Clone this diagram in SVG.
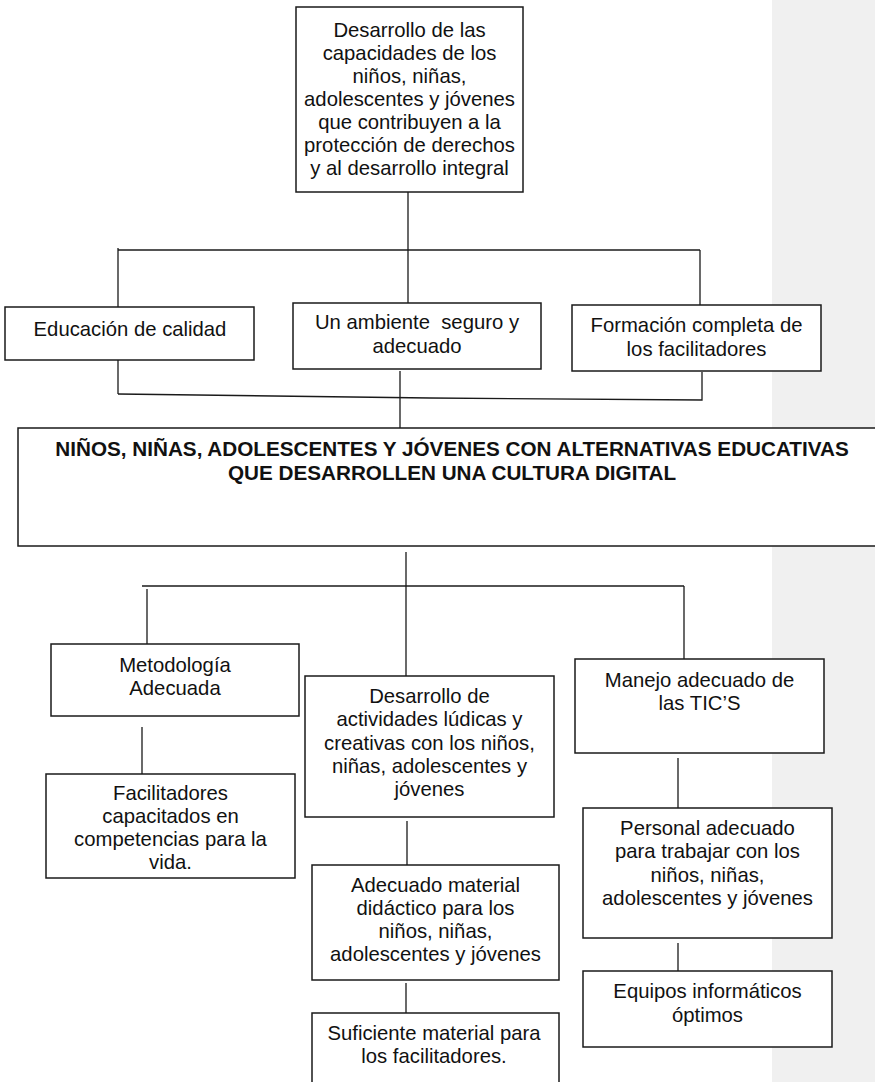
<svg xmlns="http://www.w3.org/2000/svg" width="875" height="1082" viewBox="0 0 875 1082">
<style>
.box{fill:#ffffff;stroke:#1a1a1a;stroke-width:1.5}
.t{font-family:"Liberation Sans",Arial,sans-serif;font-size:20.3px;fill:#111;text-anchor:middle}
.b{font-weight:bold;font-size:20.7px}
.c{fill:none;stroke:#1a1a1a;stroke-width:1.3}
</style>
<rect x="772" y="0" width="103" height="1082" fill="#f0f0f0"/>
<g id="connectors">
<line class="c" x1="408" y1="192" x2="408" y2="303"/>
<polyline class="c" points="118,307 118,248"/>
<line class="c" x1="118" y1="250" x2="700" y2="250"/>
<line class="c" x1="700" y1="250" x2="700" y2="305"/>
<line class="c" x1="118" y1="360" x2="118" y2="394"/>
<polyline class="c" points="118,394 430,398 702,400 702,372"/>
<line class="c" x1="400" y1="371" x2="400" y2="428"/>
<line class="c" x1="406" y1="552" x2="406" y2="676"/>
<line class="c" x1="142" y1="586" x2="684" y2="586"/>
<line class="c" x1="147" y1="589" x2="147" y2="644"/>
<line class="c" x1="684" y1="586" x2="684" y2="659"/>
<line class="c" x1="142" y1="727" x2="142" y2="774"/>
<line class="c" x1="407" y1="821" x2="407" y2="865"/>
<line class="c" x1="406" y1="983" x2="406" y2="1013"/>
<line class="c" x1="678" y1="758" x2="678" y2="808"/>
<line class="c" x1="678" y1="943" x2="678" y2="971"/>
</g>
<g id="n-top">
<rect class="box" x="296" y="7" width="227" height="185"/>
<text class="t"><tspan x="409.5" y="37">Desarrollo de las</tspan><tspan x="409.5" y="60">capacidades de los</tspan><tspan x="409.5" y="83">niños, niñas,</tspan><tspan x="409.5" y="106">adolescentes y jóvenes</tspan><tspan x="409.5" y="129">que contribuyen a la</tspan><tspan x="409.5" y="152">protección de derechos</tspan><tspan x="409.5" y="175">y al desarrollo integral</tspan></text>
</g>
<g id="n-educacion">
<rect class="box" x="5" y="307" width="249" height="53"/>
<text class="t" x="130" y="336">Educación de calidad</text>
</g>
<g id="n-ambiente">
<rect class="box" x="293" y="303" width="248" height="66"/>
<text class="t" xml:space="preserve"><tspan x="417" y="329">Un ambiente  seguro y</tspan><tspan x="417" y="353">adecuado</tspan></text>
</g>
<g id="n-formacion">
<rect class="box" x="572" y="305" width="249" height="66"/>
<text class="t"><tspan x="696.5" y="332">Formación completa de</tspan><tspan x="696.5" y="356">los facilitadores</tspan></text>
</g>
<g id="n-main">
<rect class="box" x="18" y="428" width="872" height="118"/>
<text class="t b"><tspan x="452" y="456">NIÑOS, NIÑAS, ADOLESCENTES Y JÓVENES CON ALTERNATIVAS EDUCATIVAS</tspan><tspan x="452" y="480">QUE DESARROLLEN UNA CULTURA DIGITAL</tspan></text>
</g>
<g id="n-metodologia">
<rect class="box" x="51" y="644" width="248" height="72"/>
<text class="t"><tspan x="175" y="672">Metodología</tspan><tspan x="175" y="695">Adecuada</tspan></text>
</g>
<g id="n-facilitadores">
<rect class="box" x="46" y="774" width="249" height="104"/>
<text class="t"><tspan x="170.5" y="800">Facilitadores</tspan><tspan x="170.5" y="823">capacitados en</tspan><tspan x="170.5" y="846">competencias para la</tspan><tspan x="170.5" y="869">vida.</tspan></text>
</g>
<g id="n-desarrollo">
<rect class="box" x="305" y="676" width="249" height="141"/>
<text class="t"><tspan x="429.5" y="703">Desarrollo de</tspan><tspan x="429.5" y="726">actividades lúdicas y</tspan><tspan x="429.5" y="750">creativas con los niños,</tspan><tspan x="429.5" y="773">niñas, adolescentes y</tspan><tspan x="429.5" y="796">jóvenes</tspan></text>
</g>
<g id="n-adecuado">
<rect class="box" x="312" y="865" width="247" height="115"/>
<text class="t"><tspan x="435.5" y="892">Adecuado material</tspan><tspan x="435.5" y="915">didáctico para los</tspan><tspan x="435.5" y="938">niños, niñas,</tspan><tspan x="435.5" y="961">adolescentes y jóvenes</tspan></text>
</g>
<g id="n-suficiente">
<rect class="box" x="312" y="1013" width="247" height="80"/>
<text class="t"><tspan x="434" y="1040">Suficiente material para</tspan><tspan x="434" y="1063">los facilitadores.</tspan></text>
</g>
<g id="n-manejo">
<rect class="box" x="575" y="659" width="249" height="94"/>
<text class="t"><tspan x="699.5" y="687">Manejo adecuado de</tspan><tspan x="699.5" y="710">las TIC’S</tspan></text>
</g>
<g id="n-personal">
<rect class="box" x="583" y="808" width="249" height="130"/>
<text class="t"><tspan x="707.5" y="835">Personal adecuado</tspan><tspan x="707.5" y="858">para trabajar con los</tspan><tspan x="707.5" y="882">niños, niñas,</tspan><tspan x="707.5" y="905">adolescentes y jóvenes</tspan></text>
</g>
<g id="n-equipos">
<rect class="box" x="583" y="971" width="249" height="76"/>
<text class="t"><tspan x="707.5" y="998">Equipos informáticos</tspan><tspan x="707.5" y="1022">óptimos</tspan></text>
</g>
</svg>
